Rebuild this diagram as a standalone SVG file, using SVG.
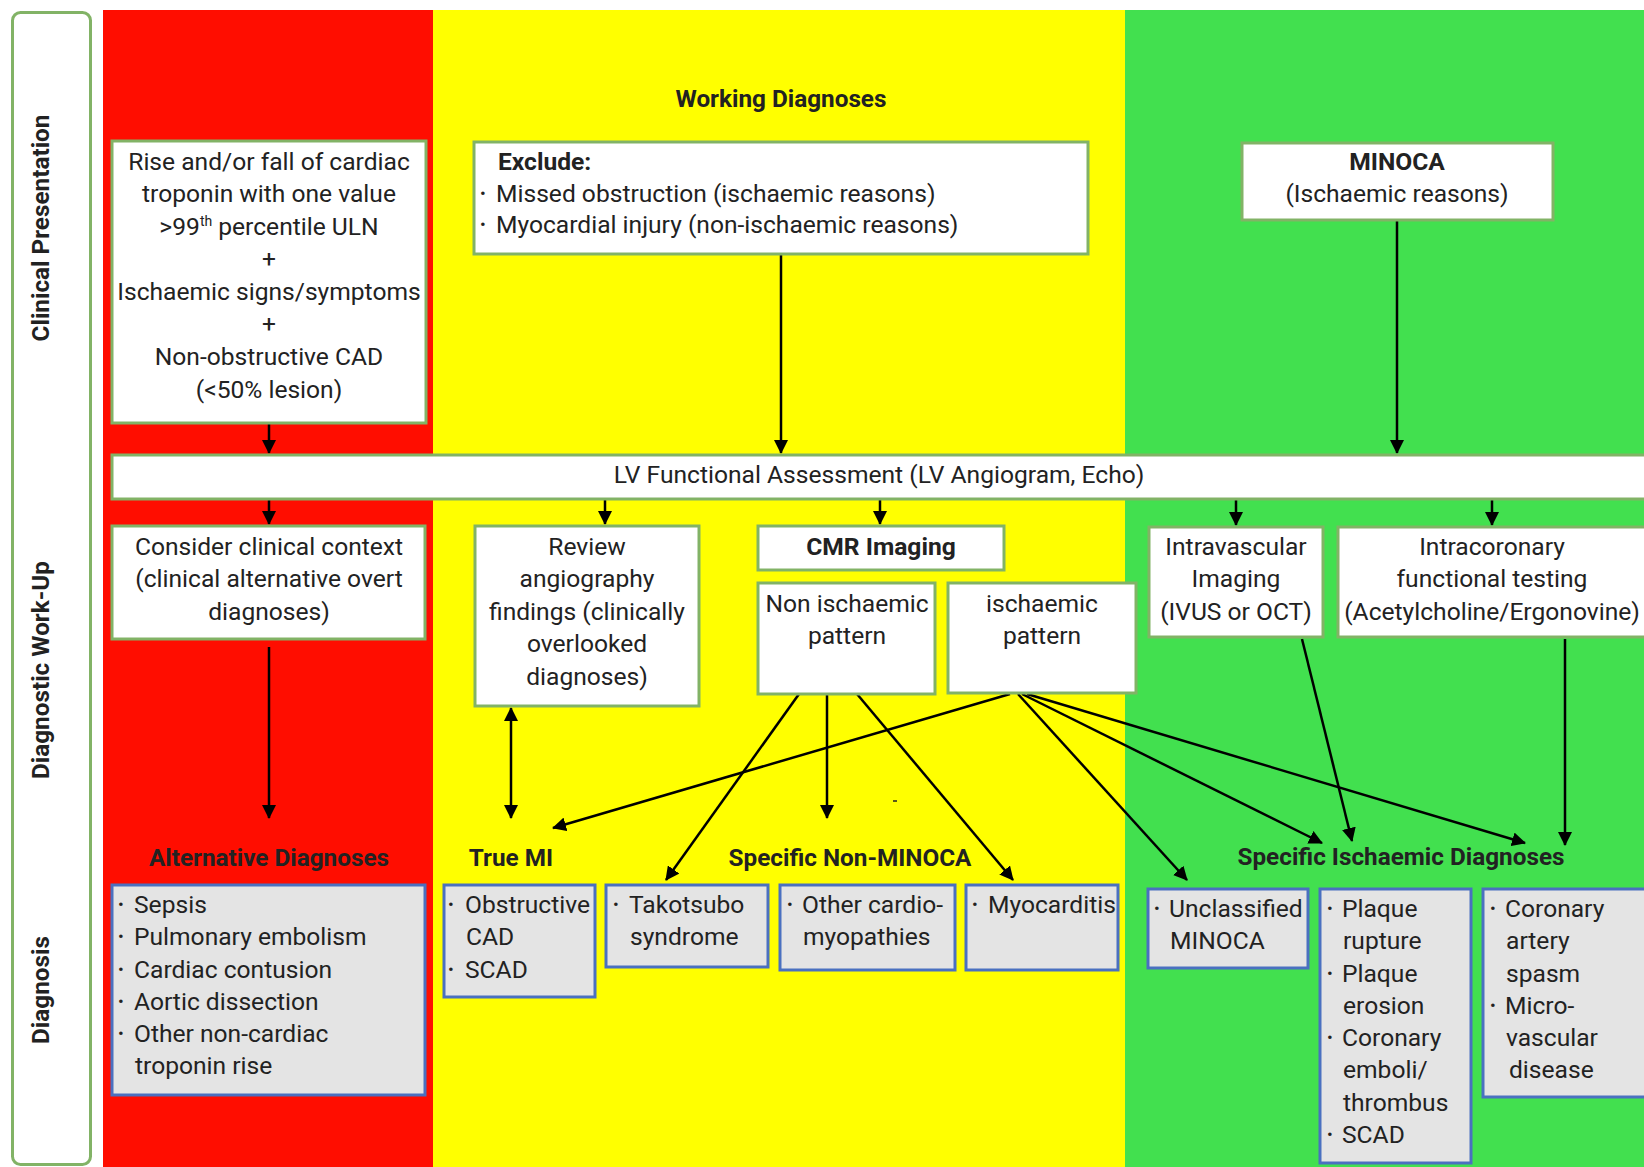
<svg xmlns="http://www.w3.org/2000/svg" width="1644" height="1167" viewBox="0 0 1644 1167">
<defs>
<style>
text{font-family:Roboto,"Liberation Sans",sans-serif;fill:#222;}
.t{font-size:24.6px;}
.c{text-anchor:middle;}
.b{font-weight:700;}
.h{font-size:24.3px;font-weight:700;text-anchor:middle;}
.v{font-size:24.3px;font-weight:700;text-anchor:middle;}
.bul{font-size:17px;}
.wb{fill:#fff;stroke:#82b366;stroke-width:3;}
.gb{fill:#e4e4e4;stroke:#4a70c0;stroke-width:3;}
.cn{stroke:#000;stroke-width:2.5;fill:none;marker-end:url(#ah);}
</style>
<marker id="ah" viewBox="0 0 14 14" markerWidth="14" markerHeight="14" refX="13" refY="7" orient="auto-start-reverse" markerUnits="userSpaceOnUse">
<path d="M0,0 L14,7 L0,14 z" fill="#000"/>
</marker>
</defs>
<rect x="0" y="0" width="1644" height="1167" fill="#fff"/>
<rect x="103" y="10" width="330" height="1157" fill="#ff0d00"/>
<rect x="433" y="10" width="692" height="1157" fill="#ffff00"/>
<rect x="1125" y="10" width="519" height="1157" fill="#42e04f"/>

<g id="side-labels">
<rect x="12.5" y="12.5" width="78" height="1152" rx="8" class="wb"/>
<text class="v" transform="translate(49,228) rotate(-90)">Clinical Presentation</text>
<text class="v" transform="translate(49,670) rotate(-90)">Diagnostic Work-Up</text>
<text class="v" transform="translate(49,990) rotate(-90)">Diagnosis</text>
</g>

<g id="connectors">
<line class="cn" x1="269" y1="423" x2="269" y2="453"/>
<line class="cn" x1="781" y1="254" x2="781" y2="453"/>
<line class="cn" x1="1397" y1="220" x2="1397" y2="453"/>
<line class="cn" x1="269" y1="499" x2="269" y2="524"/>
<line class="cn" x1="605" y1="499" x2="605" y2="524"/>
<line class="cn" x1="880" y1="499" x2="880" y2="524"/>
<line class="cn" x1="1236" y1="499" x2="1236" y2="525"/>
<line class="cn" x1="1492" y1="499" x2="1492" y2="525"/>
<line class="cn" x1="269" y1="647" x2="269" y2="818"/>
<line class="cn" x1="511" y1="708" x2="511" y2="818" style="marker-start:url(#ah)"/>
<line class="cn" x1="799" y1="694" x2="666" y2="880"/>
<line class="cn" x1="827" y1="694" x2="827" y2="818"/>
<line class="cn" x1="857" y1="694" x2="1013" y2="880"/>
<line class="cn" x1="1010" y1="694" x2="553" y2="828"/>
<line class="cn" x1="1018" y1="694" x2="1187" y2="880"/>
<line class="cn" x1="1022" y1="694" x2="1322" y2="843"/>
<line class="cn" x1="1027" y1="694" x2="1525" y2="843"/>
<line class="cn" x1="1302" y1="639" x2="1352" y2="841"/>
<line class="cn" x1="1565" y1="639" x2="1565" y2="845"/>
</g>
<line x1="893" y1="801" x2="897" y2="801" stroke="#222" stroke-width="1.5"/>

<text class="h" x="781" y="107">Working Diagnoses</text>

<g id="rise">
<rect x="112" y="141" width="314" height="282" class="wb"/>
<text class="t c" x="269" y="170">Rise and/or fall of cardiac</text>
<text class="t c" x="269" y="202">troponin with one value</text>
<text class="t c" x="269" y="235">&gt;99<tspan font-size="14" dy="-9">th</tspan><tspan dy="9"> percentile ULN</tspan></text>
<text class="t c" x="269" y="267">+</text>
<text class="t c" x="269" y="300">Ischaemic signs/symptoms</text>
<text class="t c" x="269" y="332">+</text>
<text class="t c" x="269" y="365">Non-obstructive CAD</text>
<text class="t c" x="269" y="398">(&lt;50% lesion)</text>
</g>

<g id="exclude">
<rect x="474" y="142" width="614" height="112" class="wb"/>
<text class="t b" x="498" y="170">Exclude:</text>
<text class="bul" x="480" y="199">•</text>
<text class="t" x="496" y="202">Missed obstruction (ischaemic reasons)</text>
<text class="bul" x="480" y="230">•</text>
<text class="t" x="496" y="233">Myocardial injury (non-ischaemic reasons)</text>
</g>

<g id="minoca">
<rect x="1242" y="143" width="311" height="77" class="wb"/>
<text class="t c b" x="1397" y="170">MINOCA</text>
<text class="t c" x="1397" y="202">(Ischaemic reasons)</text>
</g>

<g id="lv">
<rect x="112" y="455" width="1560" height="44" class="wb"/>
<text class="t c" x="879" y="483">LV Functional Assessment (LV Angiogram, Echo)</text>
</g>

<g id="consider">
<rect x="112" y="526" width="313" height="113" class="wb"/>
<text class="t c" x="269" y="555">Consider clinical context</text>
<text class="t c" x="269" y="587">(clinical alternative overt</text>
<text class="t c" x="269" y="620">diagnoses)</text>
</g>

<g id="review">
<rect x="475" y="526" width="224" height="180" class="wb"/>
<text class="t c" x="587" y="555">Review</text>
<text class="t c" x="587" y="587">angiography</text>
<text class="t c" x="587" y="620">findings (clinically</text>
<text class="t c" x="587" y="652">overlooked</text>
<text class="t c" x="587" y="685">diagnoses)</text>
</g>

<g id="cmr">
<rect x="758" y="526" width="246" height="44" class="wb"/>
<text class="t c b" x="881" y="555">CMR Imaging</text>
</g>

<g id="nonisch">
<rect x="758" y="583" width="177" height="111" class="wb"/>
<text class="t c" x="847" y="612">Non ischaemic</text>
<text class="t c" x="847" y="644">pattern</text>
</g>

<g id="isch">
<rect x="948" y="583" width="188" height="110" class="wb"/>
<text class="t c" x="1042" y="612">ischaemic</text>
<text class="t c" x="1042" y="644">pattern</text>
</g>

<g id="intravascular">
<rect x="1149" y="527" width="174" height="110" class="wb"/>
<text class="t c" x="1236" y="555">Intravascular</text>
<text class="t c" x="1236" y="587">Imaging</text>
<text class="t c" x="1236" y="620">(IVUS or OCT)</text>
</g>

<g id="intracoronary">
<rect x="1338" y="527" width="320" height="110" class="wb"/>
<text class="t c" x="1492" y="555">Intracoronary</text>
<text class="t c" x="1492" y="587">functional testing</text>
<text class="t c" x="1492" y="620">(Acetylcholine/Ergonovine)</text>
</g>

<text class="h" x="269" y="866">Alternative Diagnoses</text>
<text class="h" x="511" y="866">True MI</text>
<text class="h" x="850" y="866">Specific Non-MINOCA</text>
<text class="h" x="1401" y="865">Specific Ischaemic Diagnoses</text>

<g id="alt">
<rect x="112" y="885" width="313" height="210" class="gb"/>
<text class="bul" x="118" y="910">•</text><text class="t" x="134" y="913">Sepsis</text>
<text class="bul" x="118" y="942">•</text><text class="t" x="134" y="945">Pulmonary embolism</text>
<text class="bul" x="118" y="975">•</text><text class="t" x="134" y="978">Cardiac contusion</text>
<text class="bul" x="118" y="1007">•</text><text class="t" x="134" y="1010">Aortic dissection</text>
<text class="bul" x="118" y="1039">•</text><text class="t" x="134" y="1042">Other non-cardiac</text>
<text class="t" x="135" y="1074">troponin rise</text>
</g>

<g id="truemi">
<rect x="444" y="885" width="151" height="112" class="gb"/>
<text class="bul" x="448" y="910">•</text><text class="t" x="465" y="913">Obstructive</text>
<text class="t" x="466" y="945">CAD</text>
<text class="bul" x="448" y="975">•</text><text class="t" x="465" y="978">SCAD</text>
</g>

<g id="takotsubo">
<rect x="606" y="885" width="162" height="82" class="gb"/>
<text class="bul" x="613" y="910">•</text><text class="t" x="629" y="913">Takotsubo</text>
<text class="t" x="630" y="945">syndrome</text>
</g>

<g id="othercardio">
<rect x="780" y="885" width="175" height="85" class="gb"/>
<text class="bul" x="787" y="910">•</text><text class="t" x="802" y="913">Other cardio-</text>
<text class="t" x="803" y="945">myopathies</text>
</g>

<g id="myocarditis">
<rect x="966" y="885" width="152" height="85" class="gb"/>
<text class="bul" x="972" y="910">•</text><text class="t" x="988" y="913">Myocarditis</text>
</g>

<g id="unclassified">
<rect x="1148" y="889" width="160" height="79" class="gb"/>
<text class="bul" x="1154" y="914">•</text><text class="t" x="1169" y="917">Unclassified</text>
<text class="t" x="1170" y="949">MINOCA</text>
</g>

<g id="plaque">
<rect x="1320" y="889" width="151" height="274" class="gb"/>
<text class="bul" x="1327" y="914">•</text><text class="t" x="1342" y="917">Plaque</text>
<text class="t" x="1343" y="949">rupture</text>
<text class="bul" x="1327" y="979">•</text><text class="t" x="1342" y="982">Plaque</text>
<text class="t" x="1343" y="1014">erosion</text>
<text class="bul" x="1327" y="1043">•</text><text class="t" x="1342" y="1046">Coronary</text>
<text class="t" x="1343" y="1078">emboli/</text>
<text class="t" x="1343" y="1111">thrombus</text>
<text class="bul" x="1327" y="1140">•</text><text class="t" x="1342" y="1143">SCAD</text>
</g>

<g id="coronary">
<rect x="1483" y="889" width="180" height="208" class="gb"/>
<text class="bul" x="1490" y="914">•</text><text class="t" x="1505" y="917">Coronary</text>
<text class="t" x="1506" y="949">artery</text>
<text class="t" x="1506" y="982">spasm</text>
<text class="bul" x="1490" y="1011">•</text><text class="t" x="1505" y="1014">Micro-</text>
<text class="t" x="1506" y="1046">vascular</text>
<text class="t" x="1509" y="1078">disease</text>
</g>
</svg>
